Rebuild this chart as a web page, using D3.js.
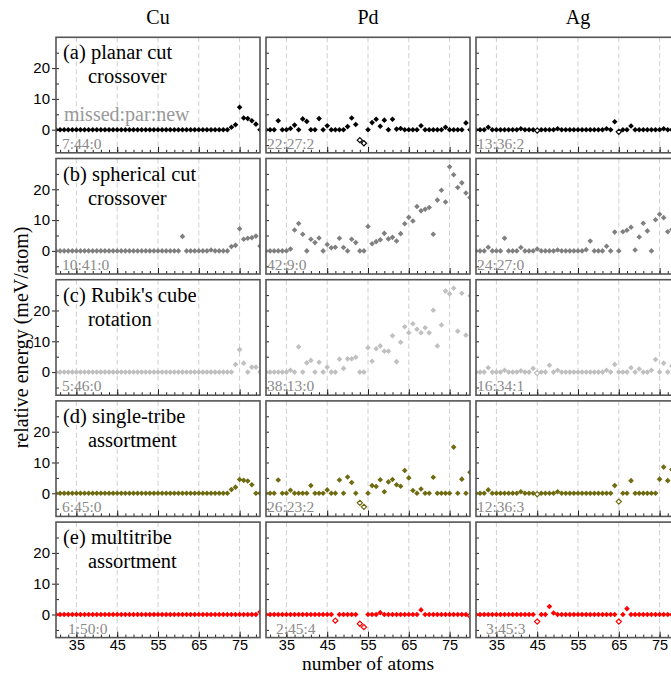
<!DOCTYPE html>
<html><head><meta charset="utf-8">
<script src="https://cdn.jsdelivr.net/npm/d3@7"></script>
<style>body{margin:0;background:#fff}</style>
</head><body><svg id="c" width="671" height="674"></svg>
<script>
// ---------- data ----------
const atoms = [30,31,32,33,34,35,36,37,38,39,40,41,42,43,44,45,46,47,48,49,50,51,52,53,54,55,56,57,58,59,60,61,62,63,64,65,66,67,68,69,70,71,72,73,74,75,76,77,78,79,80];
const elements = ["Cu","Pd","Ag"];
const methodLine1 = ["(a) planar cut","(b) spherical cut","(c) Rubik's cube","(d) single-tribe","(e) multitribe"];
const methodLine2 = ["crossover","crossover","rotation","assortment","assortment"];
const xTicks = [35,45,55,65,75];
const yTicks = [0,10,20];
const legendText = "missed:par:new";

// relative energy (meV/atom); negative = new (open marker)
const aCu = [0,0,0,0,0,0,0,0,0,0, 0,0,0,0,0,0,0,0,0,0, 0,0,0,0,0,0,0,0,0,0, 0,0,0,0,0,0,0,0,0,0, 0,0,0,0.8,1.6,7.3,3.8,3.6,2.9,1.8, 0];
const aPd = [0,0,0,2.9,0,0,0.4,1.5,0,3.5, 2.7,0,0,3.6,0,1.3,0,0,0,0, 1.0,3.8,1.7,-3.4,-4.4,0,2.3,3.4,1.1,3.1, 0,3.4,0.2,0.4,0,0,0,0,1.3,0, 0,0,0,0,0.8,0,0,0,0,2.2, 0];
const aAg = [0,0,0,0.8,0,0,0,0,0,0, 0,0.3,0,0,0,-0.3,0,0,0,0, 0.3,0,0,0,0,0,0,0,0,0, 0,0,0.3,0,2.6,-0.7,0,0,1.2,0, 0,0,0,0,0,0,0.3,0,0,0, 0];
const bCu = [0,0,0,0,0,0,0,0,0,0, 0,0,0,0,0,0,0,0,0,0, 0,0,0,0,0,0,0,0,0,0, 0,4.7,0,0,0,0,0,0,0.3,0, 0,0,0,1.4,1.8,7.2,3.8,4.1,4.3,4.8, 1.6];
const bPd = [0,0,0,0,0,0,0.6,6.8,8.9,5.4, 0,3.8,2.7,4.2,0,2.1,1.0,1.2,4.1,1.1, 0,3.8,2.7,0,0,7.9,2.3,3.0,3.6,5.7, 3.9,4.4,3.2,5.6,8.8,10.9,9.7,14.4,13.0,13.5, 14.1,5.4,16.5,19.7,15.9,27.3,24.7,20.6,22.1,18.8, 17.3];
const bAg = [0,0,0,1.2,0,0,0,4.1,0,0, 0,1.1,0,0,0,0.6,0,0,0,0, 0.3,0,0,0,0,0,0,0.4,3.2,0, 0,0,1.5,0,6.1,0,6.2,6.7,7.7,0.3, 4.5,9.0,6.5,0,10.1,11.9,10.8,6.2,7.0,8.0, 6.0];
const cCu = [0,0,0,0,0,0,0,0,0,0, 0,0,0,0,0,0,0,0,0,0, 0,0,0,0,0,0,0,0,0,0, 0,0,0,0,0,0,0,0,0,0, 0,0,0,0,2.5,7.3,2.9,0,1.6,1.6, 0];
const cPd = [0,0,0,0,0,0,0.6,0,8.2,0, 3.0,3.8,0,3.2,0,1.6,0,0,4.2,1.2, 4.3,4.3,4.8,0,0,7.9,3.5,7.6,8.5,6.8, 6.8,11.8,3.4,9.7,14.7,12.8,15.7,13.9,12.8,14.4, 12.8,20.1,8.5,15.3,26.3,25.4,27.2,13.3,25.6,12.0, 24.8];
const cAg = [0,0,0,1.4,0,0,0,0.6,0,0, 0,0.4,0,0,1.2,-0.3,0,0,2.2,0, 0.6,0,0,0,0,0,0,0,0,0, 0,0,0.6,0,2.5,0,0,0,1.4,0, 1.0,0,0,0.6,4.1,0,2.9,0,2.0,1.0, 1.0];
const dCu = [0,0,0,0,0,0,0,0,0,0, 0,0,0,0,0,0,0,0,0,0, 0,0,0,0,0,0,0,0,0,0, 0,0,0,0,0,0,0,0,0,0, 0,0,0,1.2,2.0,4.5,4.2,4.0,2.8,0, 0];
const dPd = [0,0,0,4.3,0,0,1.0,0,0,0, 0,2.5,0,0,0,1.1,0,0,4.3,0, 5.3,3.5,0,-3.1,-4.4,0,2.5,2.2,4.4,0.5, 3.7,4.5,2.8,2.3,7.4,5.0,0.9,0,1.4,0, 0,5.2,0,0,0,0,15.0,0,4.6,0, 6.8];
const dAg = [0,0,0,1.1,0,0,0,0,0,0, 0,0.5,0,0,0,-0.3,0,0,0,0, 0.5,0,0,0,0,0,0,0,0,0, 0,0,0,0,2.5,-2.7,0,0,4.1,0, 0,0,0,0,0,4.6,8.5,4.1,7.7,5.5, 9.0];
const eCu = [0,0,0,0,0,0,0,0,0,0, 0,0,0,0,0,0,0,0,0,0, 0,0,0,0,0,0,0,0,0,0, 0,0,0,0,0,0,0,0,0,0, 0,0,0,0,0,0,0,0,0,0, 0.8];
const ePd = [0,0,0,0,0,0,0,0,0,0, 0,0,0,0,0,0,0,-2.0,0,0, 0,0,0,-3.0,-4.1,0,0,0,0.6,0, 0,0,0,0,0,0,0,0,1.5,0, 0,0,0,0,0,0,0,0,0,0, -0.4];
const eAg = [0,0,0,0,0,0,0,0,0,0, 0,0,0,0,0,-2.3,0,0,2.6,0.5, 0,0,0,0,0,0,0,0,0,0, 0,0,0,0,0,-2.3,0,1.9,0,0, 0,0,0,0,0,0,0,0,0,0, 0];

const series = [[aCu,aPd,aAg],[bCu,bPd,bAg],[cCu,cPd,cAg],[dCu,dPd,dAg],[eCu,ePd,eAg]];
const counts = [["7:44:0","22:27:2","13:36:2"],["10:41:0","42:9:0","24:27:0"],["5:46:0","38:13:0","16:34:1"],["6:45:0","26:23:2","12:36:3"],["1:50:0","2:45:4","3:45:3"]];

// ---------- style / layout ----------
const rowColors = ["#000000","#808080","#c0c0c0","#6e6b10","#ff0000"];
const colLeft = [56, 266, 476];
const panelW = 204;
const rowTop0 = 37.3, rowStep = 121.2, panelH = 115.5;
const serif = "Liberation Serif";
const sans = "Liberation Sans";

const svg = d3.select("#c");
const x = d3.scaleLinear().domain([30,80]).range([0,panelW]);
const y = d3.scaleLinear().domain([-7.5,30]).range([panelH,0]);
const r = 2.8, ro = 2.6;
const diamond = rr => `M0,${-rr}L${rr},0L0,${rr}L${-rr},0Z`;
const countOffsets = [[6,1,1],[6,1,1],[6,1,1],[6,1,1],[12,10,10]];

const defs = svg.append("defs");

series.forEach((rowSeries, i) => {
  rowSeries.forEach((vals, j) => {
    const gx = colLeft[j], gy = rowTop0 + i*rowStep;
    const g = svg.append("g").attr("transform", `translate(${gx},${gy})`);
    const cid = `clip${i}${j}`;
    defs.append("clipPath").attr("id", cid).append("rect").attr("width", panelW).attr("height", panelH);

    // grid
    g.selectAll(".grid").data(xTicks).join("line")
      .attr("x1", d => x(d)).attr("x2", d => x(d)).attr("y1", 0).attr("y2", panelH)
      .attr("stroke", "#cfcfcf").attr("stroke-width", 1).attr("stroke-dasharray", "5,3");

    // inward ticks bottom
    const minorX = atoms.filter(a => a % 2 === 1);
    g.append("g").attr("transform", `translate(0,${panelH})`)
      .call(d3.axisBottom(x).tickValues(minorX).tickSize(-3).tickFormat(""))
      .call(s => s.select(".domain").remove())
      .selectAll("line").attr("stroke", "#222");
    g.append("g").attr("transform", `translate(0,${panelH})`)
      .call(d3.axisBottom(x).tickValues(xTicks).tickSize(-6).tickFormat(""))
      .call(s => s.select(".domain").remove())
      .selectAll("line").attr("stroke", "#222");
    // inward ticks left
    g.append("g")
      .call(d3.axisLeft(y).tickValues([-5,0,5,10,15,20,25]).tickSize(-3).tickFormat(""))
      .call(s => s.select(".domain").remove())
      .selectAll("line").attr("stroke", "#222");

    // labels
    if (j === 0) {
      g.append("text").attr("x", 7).attr("y", 22).style("font-family", serif).attr("font-size", 20.5)
        .attr("fill", "#000").text(methodLine1[i]);
      g.append("text").attr("x", 32).attr("y", 46).style("font-family", serif).attr("font-size", 20.5)
        .attr("fill", "#000").text(methodLine2[i]);
      if (i === 0) {
        g.append("text").attr("x", 8).attr("y", 83.5).style("font-family", serif).attr("font-size", 20)
          .attr("fill", "#999").text(legendText);
      }
      g.append("g")
        .call(d3.axisLeft(y).tickValues(yTicks).tickSize(4).tickPadding(2))
        .call(s => s.select(".domain").remove())
        .call(s => s.selectAll("line").attr("stroke", "#222"))
        .call(s => s.selectAll("text").style("font-family", sans).attr("font-size", 15).attr("fill", "#000"));
    }
    g.append("text").attr("x", countOffsets[i][j]).attr("y", panelH - 4)
      .style("font-family", serif).attr("font-size", 15.5).attr("fill", "#8a8a8a").text(counts[i][j]);

    // points
    const pts = g.append("g").attr("clip-path", `url(#${cid})`);
    const data = atoms.map((a, k) => ({a, v: vals[k]}));
    pts.selectAll("path.f").data(data.filter(d => d.v >= 0)).join("path")
      .attr("transform", d => `translate(${x(d.a)},${y(d.v)})`)
      .attr("d", diamond(r)).attr("fill", rowColors[i]);
    pts.selectAll("path.o").data(data.filter(d => d.v < 0)).join("path")
      .attr("transform", d => `translate(${x(d.a)},${y(d.v)})`)
      .attr("d", diamond(ro)).attr("fill", "#fff").attr("stroke", rowColors[i]).attr("stroke-width", 1.2);

    // frame
    g.append("rect").attr("width", panelW).attr("height", panelH)
      .attr("fill", "none").attr("stroke", "#555").attr("stroke-width", 1.6);

    if (i === series.length - 1) {
      g.append("g").attr("transform", `translate(0,${panelH})`)
        .call(d3.axisBottom(x).tickValues(xTicks).tickSize(0).tickPadding(2))
        .call(s => s.select(".domain").remove())
        .call(s => s.selectAll("text").style("font-family", sans).attr("font-size", 14.5).attr("fill", "#000"));
    }
  });
});

// column titles
svg.selectAll(".coltitle").data(elements).join("text")
  .attr("x", (d, j) => colLeft[j] + panelW/2).attr("y", 24)
  .attr("text-anchor", "middle").style("font-family", serif).attr("font-size", 20).text(d => d);

// axis titles
svg.append("text").attr("x", colLeft[1] + panelW/2).attr("y", 670)
  .attr("text-anchor", "middle").style("font-family", serif).attr("font-size", 19.5).text("number of atoms");
svg.append("text").attr("transform", `translate(28,${rowTop0 + 2*rowStep + panelH/2}) rotate(-90)`)
  .attr("text-anchor", "middle").style("font-family", serif).attr("font-size", 20).text("relative energy (meV/atom)");
</script>
</body></html>
